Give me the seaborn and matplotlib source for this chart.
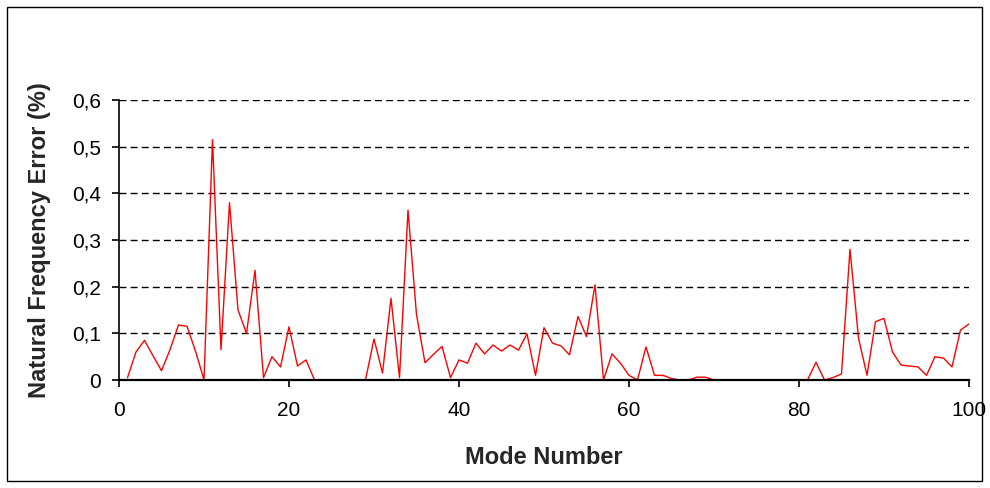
import matplotlib
matplotlib.use("Agg")
import matplotlib.pyplot as plt
import matplotlib.ticker as mticker
import pandas as pd
import seaborn as sns
from matplotlib.patches import Rectangle

# モード番号
mode_number = list(range(1, 101))

# 固有振動数誤差 (%) - 図から読み取った値
freq_error = [
    0.005, 0.060, 0.085, 0.052, 0.020, 0.065, 0.118, 0.115, 0.062, 0.000,  # 1-10
    0.515, 0.065, 0.380, 0.150, 0.100, 0.235, 0.005, 0.050, 0.028, 0.114,  # 11-20
    0.030, 0.043, 0.000, 0.000, 0.000, 0.000, 0.000, 0.000, 0.000, 0.088,  # 21-30
    0.015, 0.175, 0.005, 0.364, 0.140, 0.037, 0.055, 0.072, 0.005, 0.043,  # 31-40
    0.036, 0.079, 0.056, 0.075, 0.062, 0.075, 0.064, 0.099, 0.010, 0.112,  # 41-50
    0.079, 0.073, 0.054, 0.136, 0.093, 0.204, 0.000, 0.056, 0.036, 0.010,  # 51-60
    0.000, 0.071, 0.010, 0.010, 0.003, 0.000, 0.000, 0.006, 0.006, 0.000,  # 61-70
    0.000, 0.000, 0.000, 0.000, 0.000, 0.000, 0.000, 0.000, 0.000, 0.000,  # 71-80
    0.000, 0.038, 0.000, 0.005, 0.013, 0.280, 0.090, 0.010, 0.125, 0.132,  # 81-90
    0.060, 0.032, 0.030, 0.028, 0.010, 0.050, 0.047, 0.028, 0.107, 0.120,  # 91-100
]

y_ticks = [0, 0.1, 0.2, 0.3, 0.4, 0.5, 0.6]
x_ticks = [0, 20, 40, 60, 80, 100]

df = pd.DataFrame({"Mode Number": mode_number, "Error": freq_error})

sns.set_theme(style="white")
plt.rcParams["font.family"] = ["Liberation Sans", "DejaVu Sans"]

fig = plt.figure(figsize=(9.9, 4.88), dpi=100)
ax = fig.add_axes([119 / 990, 108 / 488, 850 / 990, 280 / 488])

sns.lineplot(data=df, x="Mode Number", y="Error", color="#ff0000",
             linewidth=1.0, ax=ax, zorder=2)

# 軸の設定
ax.set_xlim(0, 100)
ax.set_ylim(0, 0.6)
ax.set_xticks(x_ticks)
ax.set_yticks(y_ticks)
ax.yaxis.set_major_formatter(
    mticker.FuncFormatter(lambda v, p: "0" if v == 0 else f"{v:.1f}".replace(".", ","))
)
ax.tick_params(axis="both", direction="out", length=5, width=1.2,
               colors="black", labelsize=15, bottom=True, left=True)
ax.tick_params(axis="x", pad=10)
ax.tick_params(axis="y", pad=8)

# グリッド（破線）
for y in y_ticks[1:]:
    ax.axhline(y, color="black", linewidth=1.0, linestyle=(0, (5, 3)), zorder=1)

for side in ["top", "right"]:
    ax.spines[side].set_visible(False)
ax.spines["left"].set_color("black")
ax.spines["left"].set_linewidth(1.2)
ax.spines["bottom"].set_color("black")
ax.spines["bottom"].set_linewidth(1.6)
for s in ax.spines.values():
    s.set_zorder(3)

ax.set_xlabel("Mode Number", fontsize=17, fontweight="bold")
ax.set_ylabel("Natural Frequency Error (%)", fontsize=17, fontweight="bold")
ax.xaxis.set_label_coords(0.5, -0.235)
ax.yaxis.set_label_coords(-0.08, 0.5)

# 外枠
fig.patches.append(Rectangle((7 / 990, 7 / 488), 975 / 990, 474 / 488,
                             transform=fig.transFigure, fill=False,
                             edgecolor="black", linewidth=1.0))

fig.savefig("out.png", dpi=100)
